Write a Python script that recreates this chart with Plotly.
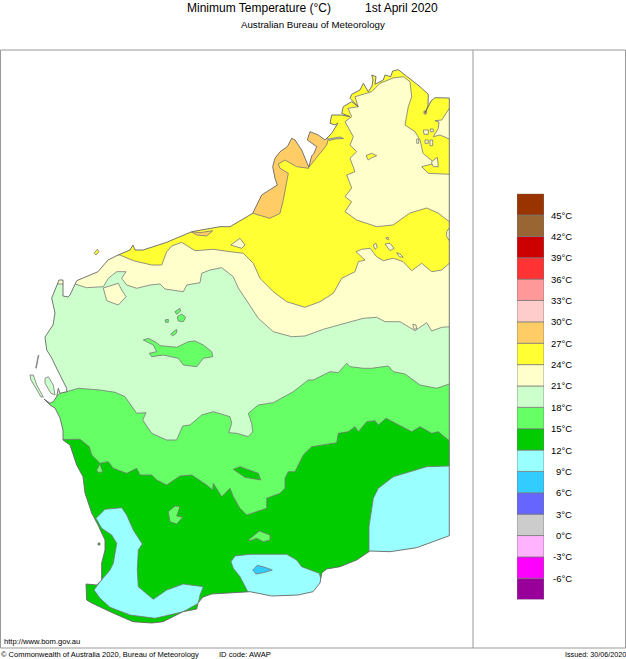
import plotly.graph_objects as go

# colour scale of the chart, from the coldest band up
band_low = [-9, -6, -3, 0, 3, 6, 9, 12, 15, 18, 21, 24, 27, 30, 33, 36, 39, 42, 45]
band_size = [3] * len(band_low)
band_colours = ['#990099', '#FF00FF', '#FFB3FF', '#CCCCCC', '#6666FF', '#33CCFF', '#99FFFF',
                '#00CC00', '#66FF66', '#CCFFCC', '#FFFFCC', '#FFFF33', '#FFCC66', '#FFCCCC',
                '#FF9999', '#FF3333', '#CC0000', '#996633', '#993300']
tick_values = [-6, -3, 0, 3, 6, 9, 12, 15, 18, 21, 24, 27, 30, 33, 36, 39, 42, 45]
tick_labels = ['-6°C', '-3°C', '0°C', '3°C', '6°C', '9°C', '12°C', '15°C', '18°C', '21°C',
               '24°C', '27°C', '30°C', '33°C', '36°C', '39°C', '42°C', '45°C']

# map outlines (map units, y down)
coast = [(449.3, 98), (435, 97.7), (431, 101), (427, 108), (425, 113), (428, 106), (428.3, 94.3), (420, 86.7),
         (411.7, 80), (403.3, 73.3), (398.3, 69.7), (392.7, 71), (390.7, 76.7), (385, 75), (383.3, 80), (375, 84.3),
         (376, 76.7), (371.7, 75), (373, 80), (372, 86), (368.3, 91.7), (363.3, 83.3), (360, 90), (351.7, 94.3),
         (350, 98.3), (358.3, 106.7), (351.7, 101.7), (343.3, 106.7), (341.7, 113.3), (350, 116.7), (341.7, 115),
         (331.7, 115), (330, 123.3), (335, 125), (338, 123), (331.7, 133.3), (325, 140), (318.3, 135), (310, 131.7),
         (307.3, 140), (316.7, 146.7), (314, 153.3), (311.7, 156), (309.3, 165), (308.7, 167), (301.7, 150), (295, 140),
         (291.7, 138.3), (287.3, 146.7), (280, 151.7), (275, 158.3), (272.7, 166.7), (275, 178.3),
         (277.3, 185), (261.7, 195), (252.7, 213.3), (230, 226.7), (220, 226.7), (191.7, 231.7),
         (166.7, 242.3), (143, 250), (135, 250), (133, 245), (130, 250), (118, 255), (108, 260),
         (98, 271.7), (76.7, 280.7), (70, 295), (68, 297), (63, 296), (63, 280), (59, 280), (51.7, 298),
         (55, 313), (53, 325), (45, 337), (46.7, 350), (51.7, 358), (58.3, 371.7), (66.7, 388.3), (66.7, 391.7),
         (60, 393.3), (58.3, 388.3), (56.7, 396.7), (53.3, 401.7), (50, 403.3), (44, 399), (50, 405), (55, 408),
         (60, 418), (63, 430), (63, 440), (70, 445), (76.7, 465), (83, 476.7), (85, 493),
         (91.7, 513), (98, 525), (105, 540), (105, 550), (101.7, 563), (101.7, 580), (96.7, 585),
         (86, 584), (86.7, 600), (91.7, 603), (113, 613), (133, 621.7), (151.7, 623), (163, 621.7), (183, 611.7),
         (196.7, 609), (198, 603), (203, 597), (211.7, 594), (230, 593), (250, 591.7), (271.7, 596),
         (298, 595), (313, 591.7), (320, 583), (321.7, 573), (326.7, 569), (340, 566.7), (356.7, 560),
         (370, 551), (390, 551.7), (416.7, 547.7), (449.3, 535.7), (449.3, 98)]

zone_24_27 = [(1, 60), (460, 60), (460, 420), (1, 420)]
zone_21_24_north = [(403.3, 76.7), (393, 78), (380, 83.3), (371.7, 91.7), (355, 96.7), (358, 106.7), (348, 108.3),
                    (351.7, 116.7), (345, 121.7), (353.3, 136.7), (350, 145), (356.7, 151.7), (350, 158.3),
                    (355, 171.7), (346.7, 175), (351.7, 188), (345, 196.7), (351.7, 201.7), (345, 211.7),
                    (356.7, 220), (376.7, 226.7), (393, 225), (410, 213), (426.7, 208), (438, 213),
                    (449.3, 221.7), (460, 222), (460, 174.3), (449.3, 174.3), (428.3, 173.3), (421.7, 166.7),
                    (435, 163.3), (423, 153.3), (420, 140), (415, 131.7), (405, 125), (408.3, 106.7),
                    (411.7, 96.7), (410, 81.7)]
zone_21_24_ne = [(449.3, 108.3), (441.7, 120), (435, 120.7), (439, 122), (438.3, 128.3), (433.3, 136.7), (440, 135),
                 (449.3, 139), (460, 139), (460, 108)]
pockets_21_24 = [
    [(423.3, 130), (428.3, 130), (428.3, 134.3), (424, 134.3)],
    [(430, 129), (433.3, 129), (433.3, 131.7), (430.7, 131.7)],
    [(416.7, 139), (418.7, 139), (418.7, 143.3), (416.7, 143.3)],
    [(425, 140), (428.3, 140), (428.3, 143.3), (425, 143.3)],
    [(430, 140), (432.7, 140), (432.7, 145.7), (430, 145.7)],
    [(431.7, 161.7), (437.3, 157.3), (438.3, 166.7), (433.3, 166.7), (431.7, 163.3)],
    [(449.3, 228), (446.7, 231.7), (446.7, 236.7), (449.3, 240.7), (456, 240), (456, 228)],
]
pocket_24_27 = [(366, 155.7), (371.7, 153.3), (376.7, 155.7), (371.7, 157.7), (368.3, 160)]
zone_27_30_west = [(252.7, 213.3), (270, 218.3), (280, 213.3), (283.3, 200), (288.3, 173.3), (280, 168.3),
                   (278.3, 164), (285, 160), (296.7, 166.7), (308.7, 168.3), (309, 160), (300, 130),
                   (260, 150), (240, 210)]
zone_27_30_east = [(309, 167), (318.3, 155), (326.7, 145), (328.3, 139), (325, 136), (320, 130), (305, 130), (305, 140)]
zone_27_30_spots = [
    [(191, 231.7), (200, 232.7), (212.7, 230.7), (206.7, 236), (196.7, 235)],
    [(424, 111), (426.3, 111), (426.3, 114), (424, 114)],
]
zone_21_24_south = [(20, 255), (120, 255), (133.3, 260.7), (151.7, 265), (161.7, 265), (166.7, 251.7),
                    (171.7, 246), (181.7, 242.3), (195, 250.7), (213.3, 249.3), (230, 251.7), (243.3, 253.3),
                    (253.3, 263.3), (260, 278.3), (273.3, 291.7), (286.7, 301.7), (305, 307.3), (320, 301.7),
                    (333.3, 293.3), (341.7, 278.3), (355, 271.7), (358.3, 261.7), (365, 260), (356, 251.7),
                    (361.7, 249.3), (370, 248.3), (376.7, 256.7), (383.3, 260.7), (393.3, 258.3),
                    (403.3, 261.7), (411.7, 270.7), (421.7, 263.3), (431.7, 271.7), (441.7, 270),
                    (449.3, 263.3), (460, 263), (460, 420), (20, 420)]
spots_21_24 = [
    [(230.7, 245), (240, 238.3), (245, 245), (241.7, 248.3)],
    [(373.3, 245), (376, 243.3), (377.3, 247.3), (375, 249.3)],
    [(385, 244), (390, 243.3), (394, 248.3), (390, 250.7)],
    [(396.7, 252.7), (400, 254), (403.3, 257.3), (399.3, 256.7)],
    [(385.7, 238), (388.3, 237.3), (388.3, 240)],
]
zone_18_21 = [(20, 284), (75, 284), (86.7, 287.7), (103.3, 286.7), (108.3, 278.3), (116.7, 271.7), (126, 271.7),
              (121.7, 278.3), (126.7, 285), (136.7, 288.3), (150, 285), (160, 284), (165, 289), (176.7, 291),
              (183.3, 291.7), (186.7, 285), (200, 282.7), (201.7, 273.3), (210, 270), (221.7, 267.7),
              (233.3, 276.7), (238.3, 288), (250, 305), (258.3, 318.3), (273.3, 331.7), (291.7, 336.7),
              (305, 336), (323.3, 329.3), (345, 323.3), (363.3, 318.3), (376.7, 317.3), (385, 321.7),
              (400, 321.7), (415, 330.7), (426.7, 322.7), (431.7, 331), (441.7, 327.3), (449.3, 326.7),
              (460, 326), (460, 480), (20, 480)]
spot_21_24_west = [(103.3, 288), (118.3, 283.3), (121.7, 290), (126, 296.7), (118.3, 305), (106.7, 300.7)]
spot_21_24_east = [(412.7, 324.3), (416, 325), (416.7, 329), (414, 329)]
zone_15_18 = [(20, 398), (43, 398), (50, 403), (60, 393), (66.7, 391.7), (78.3, 388.3), (100, 390), (115, 392.3), (125, 396.7),
              (136.7, 413.3), (146, 412.7), (142.7, 420), (151.7, 433.3), (166.7, 440), (176.7, 440),
              (182.7, 426), (190, 425), (201.7, 415), (213.3, 411.7), (230, 416.7), (231.7, 423.3),
              (228.7, 432.7), (236.7, 433.3), (248.3, 436.7), (252.7, 431.7), (251.7, 423.3), (248.3, 413.3),
              (258.3, 405), (273.3, 402.7), (293.3, 391.7), (308.3, 380), (313.3, 380), (330, 371.7),
              (338.3, 372.7), (346.7, 363.3), (350, 366.7), (363.3, 368.3), (371.7, 368.3), (388.3, 366),
              (393.3, 371.7), (405, 374), (420, 385), (436.7, 388.3), (449.3, 384), (460, 384), (460, 640),
              (20, 640)]
spots_15_18 = [
    [(143.3, 340), (148.3, 338.3), (156.7, 342.7), (160, 345.7), (176.7, 347.3), (188.3, 341.7), (195, 341),
     (203.3, 345), (211.7, 351.7), (212.7, 356.7), (203.3, 358.3), (196.7, 366.7), (183.3, 365), (178.3, 358.3),
     (163.3, 355), (151.7, 356.7), (149.3, 353.3), (156.7, 351.7), (153.3, 345)],
    [(177.3, 316.7), (181.7, 314), (185.7, 317.3), (183.3, 321.7), (178.3, 321)],
    [(175, 311.7), (180, 308.3), (180.7, 311), (176.7, 314.3)],
    [(165, 320), (168.3, 319.3), (168.3, 322.3), (165.7, 322.3)],
    [(170.7, 334), (176.7, 329.3), (176.7, 332.7), (172.7, 336)],
]
zone_12_15 = [(20, 440), (70, 440), (80, 439.3), (89.3, 446.7), (91.7, 455), (100, 463.3), (108.3, 461.7),
              (113.3, 468.3), (126.7, 473.3), (136.7, 468.3), (140, 475), (151.7, 475), (156.7, 480),
              (166.7, 485), (180, 476), (191.7, 475), (206.7, 485), (212.7, 490), (213.3, 483.3), (221.7, 496.7),
              (230, 488.3), (233.3, 496.7), (240, 508.3), (246.7, 515), (266.7, 508.3), (266.7, 498.3),
              (280, 493.3), (285, 488.3), (285, 478.3), (288.3, 471.7), (295, 471.7), (303.3, 455), (311.7, 446.7),
              (336.7, 442.7), (338.3, 433.3), (348.3, 431.7), (355, 426.7), (358.3, 431.7), (366.7, 421.7),
              (375, 420.7), (378.3, 425), (386, 418.3), (411.7, 431.7), (420, 426.7), (431.7, 433.3), (438.3, 431.7),
              (449.3, 440.7), (460, 441), (460, 640), (20, 640)]
spot_12_15 = [(233.3, 469.3), (240, 466.7), (258.3, 473.3), (260.7, 480), (245, 477.3)]
holes_15_18 = [
    [(96.7, 470), (100, 464), (102.7, 471.7), (98.3, 472.7)],
    [(168.3, 511.7), (175, 506), (180, 506.7), (176.7, 516), (182.7, 517.3), (176.7, 524), (170, 521.7)],
    [(248.3, 540), (259.3, 531), (270, 535), (270, 540), (263.3, 541.7), (256.7, 538.3), (250, 540.7)],
]
zone_9_12 = [
    [(96, 518.3), (105, 509.3), (121.7, 507.7), (126.7, 515), (133.3, 530), (142.3, 544), (138.3, 550), (137.3, 570),
     (138.3, 586.7), (153.3, 599.3), (166.7, 590), (183.3, 584), (203.3, 586.7), (200, 595), (198.3, 603.3),
     (183.3, 611.7), (155, 618.3), (130, 615), (110, 607.3), (100, 598.3), (94, 590), (100, 581.7), (110, 570),
     (113.3, 563.3), (116.7, 543.3), (111.7, 535), (101.7, 528.3)],
    [(231, 561.7), (235, 556), (250, 554.3), (286.7, 554.3), (296.7, 560), (301.7, 566.7), (319.3, 573.3),
     (322, 583.3), (315, 596), (298.3, 600), (271.7, 601), (250, 596), (240, 576.7), (233.3, 568.3)],
    [(373.3, 498.3), (378.3, 488.3), (393.3, 476.7), (426.7, 466.7), (449.3, 466), (460, 466), (460, 560),
     (400, 560), (369, 556), (369, 526.7)],
]
zone_6_9 = [(252.7, 570), (257.3, 565.3), (265, 567.3), (272.3, 570), (263.3, 572.7), (256, 574)]
islands = [
    ('#FFFF33', [(94, 253.3), (97.3, 249.3), (99, 251.7), (96, 255)]),
    ('#CCFFCC', [(30, 375), (33.3, 375), (36.7, 385), (43.3, 397), (41, 397), (36, 388), (31, 380)]),
    ('#CCFFCC', [(45, 378.3), (48.3, 376.7), (53.3, 385), (55, 395), (51, 393.3), (48.3, 388.3), (45, 383.3)]),
    ('#CCFFCC', [(38.3, 355), (38.8, 355.5), (36.2, 368.3), (35.7, 368)]),
    ('#00CC00', [(98, 543), (100, 543), (100, 545), (98, 545)]),
]
inlet = [(328, 139), (340, 137), (343.5, 138.5), (335, 139), (329, 140.5)]

fig = go.Figure()


def add_area(points, colour, outline=True):
    fig.add_trace(go.Scatter(
        x=[p[0] for p in points] + [points[0][0]],
        y=[p[1] for p in points] + [points[0][1]],
        mode='lines',
        fill='toself',
        fillcolor=colour,
        line=dict(color='#777777', width=0.8 if outline else 0),
        hoverinfo='skip',
        showlegend=False,
    ))


# painted from the north to the south, the mask below trims everything at the coast
add_area(zone_24_27, '#FFFF33', outline=False)
add_area(zone_21_24_north, '#FFFFCC')
add_area(zone_21_24_ne, '#FFFFCC')
for pocket in pockets_21_24:
    add_area(pocket, '#FFFFCC')
add_area(pocket_24_27, '#FFFF33')
add_area(zone_27_30_west, '#FFCC66')
add_area(zone_27_30_east, '#FFCC66')
for spot in zone_27_30_spots:
    add_area(spot, '#FFCC66')
add_area(zone_21_24_south, '#FFFFCC')
for spot in spots_21_24:
    add_area(spot, '#FFFFCC')
add_area(zone_18_21, '#CCFFCC')
add_area(spot_21_24_west, '#FFFFCC')
add_area(spot_21_24_east, '#FFFFCC')
for spot in spots_15_18:
    add_area(spot, '#66FF66')
add_area(zone_15_18, '#66FF66')
add_area(zone_12_15, '#00CC00')
add_area(spot_12_15, '#00CC00')
for hole in holes_15_18:
    add_area(hole, '#66FF66')
for area in zone_9_12:
    add_area(area, '#99FFFF')
add_area(zone_6_9, '#33CCFF')

# white sea: frame box with the land cut out of it
sea = [(449.3, 51), (472.5, 51), (472.5, 647), (1, 647), (1, 51), (449.3, 51)] + coast
add_area(sea, '#FFFFFF', outline=False)
fig.add_trace(go.Scatter(x=[p[0] for p in coast], y=[p[1] for p in coast], mode='lines',
                         line=dict(color='#666666', width=0.9), hoverinfo='skip', showlegend=False))
for colour, island in islands:
    add_area(island, colour)
add_area(inlet, '#CCCCCC')

# colour scale
fig.add_trace(go.Bar(
    x=['scale'] * len(band_low),
    y=band_size,
    base=band_low,
    marker=dict(color=band_colours, line=dict(color='#777777', width=0.7)),
    width=1,
    xaxis='x2',
    yaxis='y2',
    hoverinfo='skip',
    showlegend=False,
))

font = 'Liberation Sans'
notes = [
    (186.5, 7.5, 'Minimum Temperature (°C)', 12, 'left'),
    (364.5, 7.5, '1st April 2020', 12, 'left'),
    (312.5, 24, 'Australian Bureau of Meteorology', 9.7, 'center'),
    (4, 641, 'http://www.bom.gov.au', 7.6, 'left'),
    (1, 654, '© Commonwealth of Australia 2020, Bureau of Meteorology', 7.5, 'left'),
    (219, 654, 'ID code: AWAP', 7.6, 'left'),
    (626, 654, 'Issued: 30/06/2020', 7.2, 'right'),
]
annotations = [dict(x=x, y=y, text=t, xref='x', yref='y', xanchor=a, yanchor='middle', showarrow=False,
                    borderpad=0, borderwidth=0,
                    font=dict(family=font, size=s, color='black')) for x, y, t, s, a in notes]
for value, label in zip(tick_values, tick_labels):
    annotations.append(dict(x=572 / 626, y=value, text=label, xref='paper', yref='y2', xanchor='right',
                            yanchor='middle', showarrow=False, borderpad=0, borderwidth=0,
                            font=dict(family=font, size=9.5, color='black')))

frame = dict(color='#999999', width=1)
fig.update_layout(
    width=626,
    height=659,
    margin=dict(l=0, r=0, t=0, b=0),
    paper_bgcolor='white',
    plot_bgcolor='white',
    barmode='overlay',
    xaxis=dict(range=[0, 626], visible=False, domain=[0, 1]),
    yaxis=dict(range=[659, 0], visible=False, domain=[0, 1]),
    xaxis2=dict(domain=[517 / 626, 544 / 626], visible=False, anchor='y2'),
    yaxis2=dict(domain=[0.0901, 0.7061], range=[-9, 48], visible=False, anchor='x2'),
    annotations=annotations,
    shapes=[
        dict(type='rect', x0=0.5, x1=625.5, y0=50, y1=648, xref='x', yref='y', line=frame),
        dict(type='line', x0=473, x1=473, y0=50, y1=648, xref='x', yref='y', line=frame),
    ],
)

fig.write_html('out.html', config={'displayModeBar': False},
               post_script="document.body.style.margin='0';")
